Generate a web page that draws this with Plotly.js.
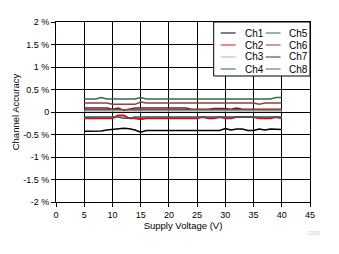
<!DOCTYPE html>
<html><head><meta charset="utf-8">
<script src="https://cdn.plot.ly/plotly-3.0.1.min.js"></script>
<style>html,body{margin:0;padding:0;background:#fff}#c{width:339px;height:254px}</style>
</head><body><div id="c"></div>
<script>
var voltage = [5,6,7,8,9,10,11,12,13,14,15,16,17,18,19,20,21,22,23,24,25,26,27,28,29,30,31,32,33,34,35,36,37,38,39,40];
var ch1 = [-0.43,-0.43,-0.43,-0.42,-0.40,-0.39,-0.37,-0.36,-0.37,-0.40,-0.45,-0.41,-0.41,-0.41,-0.41,-0.41,-0.41,-0.41,-0.41,-0.41,-0.41,-0.41,-0.41,-0.41,-0.41,-0.37,-0.40,-0.38,-0.38,-0.41,-0.41,-0.38,-0.40,-0.38,-0.39,-0.39];
var ch2 = [-0.14,-0.14,-0.14,-0.14,-0.14,-0.14,-0.08,-0.08,-0.14,-0.14,-0.16,-0.14,-0.14,-0.14,-0.14,-0.14,-0.14,-0.14,-0.14,-0.14,-0.14,-0.11,-0.14,-0.14,-0.11,-0.14,-0.14,-0.11,-0.11,-0.11,-0.11,-0.14,-0.14,-0.14,-0.11,-0.14];
var ch3 = [0.02,0.02,0.02,0.02,0.02,0.02,0.02,0.02,0.02,0.02,0.01,0.02,0.02,0.02,0.02,0.02,0.02,0.02,0.02,0.02,0.02,0.02,0.02,0.02,0.02,0.02,0.02,0.02,0.02,0.02,0.02,0.02,0.02,0.02,0.02,0.02];
var ch4 = [-0.11,-0.11,-0.11,-0.11,-0.11,-0.11,-0.11,-0.14,-0.14,-0.11,-0.11,-0.11,-0.11,-0.11,-0.11,-0.11,-0.11,-0.11,-0.11,-0.11,-0.11,-0.11,-0.11,-0.11,-0.11,-0.11,-0.11,-0.11,-0.11,-0.11,-0.11,-0.11,-0.11,-0.11,-0.11,-0.11];
var ch5 = [0.29,0.29,0.29,0.32,0.29,0.29,0.29,0.29,0.29,0.29,0.32,0.29,0.29,0.29,0.29,0.29,0.29,0.29,0.29,0.29,0.29,0.29,0.29,0.29,0.29,0.29,0.29,0.29,0.29,0.29,0.29,0.29,0.29,0.29,0.32,0.32];
var ch6 = [0.20,0.20,0.20,0.20,0.20,0.17,0.17,0.17,0.17,0.17,0.22,0.20,0.20,0.20,0.20,0.20,0.20,0.20,0.20,0.20,0.20,0.20,0.20,0.20,0.20,0.20,0.20,0.20,0.20,0.20,0.20,0.17,0.20,0.20,0.20,0.20];
var ch7 = [0.09,0.09,0.09,0.09,0.09,0.06,0.09,0.04,0.06,0.09,0.09,0.09,0.09,0.09,0.09,0.09,0.09,0.09,0.09,0.06,0.06,0.06,0.06,0.08,0.08,0.08,0.06,0.09,0.06,0.06,0.06,0.06,0.06,0.06,0.06,0.06];
var ch8 = [0.05,0.05,0.05,0.05,0.05,0.04,0.04,0.05,0.05,0.05,0.05,0.05,0.05,0.05,0.05,0.05,0.05,0.05,0.05,0.05,0.05,0.05,0.05,0.05,0.05,0.05,0.05,0.05,0.05,0.05,0.05,0.05,0.05,0.05,0.05,0.05];
var names = ["Ch1","Ch2","Ch3","Ch4","Ch5","Ch6","Ch7","Ch8"];
var colors = ["#000000","#ff0000","#b4b4b4","#24607e","#2f6e4f","#9b3b3b","#5a2060","#7a5a2c"];
var series = [ch1,ch2,ch3,ch4,ch5,ch6,ch7,ch8];
var yTickVals = [-2,-1.5,-1,-0.5,0,0.5,1,1.5,2];
var yTickText = ["-2 %","-1.5 %","-1 %","-0.5 %","0","0.5 %","1 %","1.5 %","2 %"];
var xTickVals = [0,5,10,15,20,25,30,35,40,45];

var traces = series.map(function(s,i){
  return {x: voltage, y: s, type:"scatter", mode:"lines", name: names[i],
    line:{color: colors[i], width: (i===1?2:1.5)}, showlegend:false, hoverinfo:"skip"};
});

var L=56, T=22, W=254.5, H=180;
function px(x){return (x-L)/W;}
function py(y){return (T+H-y)/H;}
var shapes = [{type:"rect", xref:"paper", yref:"paper", x0:px(214), x1:1, y0:py(76), y1:1,
  line:{color:"#000", width:1}, fillcolor:"#fff", layer:"above"}];
var annotations = [];
var rowsY = [33,45,57,69];
names.forEach(function(n,i){
  var col = i<4?0:1, row = i%4;
  var lx0 = col===0?221:266, tx = col===0?243:287;
  shapes.push({type:"line", xref:"paper", yref:"paper", x0:px(lx0), x1:px(lx0+15), y0:py(rowsY[row]), y1:py(rowsY[row]),
    line:{color:colors[i], width:1}, layer:"above"});
  annotations.push({xref:"paper", yref:"paper", x:px(tx), y:py(rowsY[row]), xanchor:"left", yanchor:"middle",
    text:n, showarrow:false, font:{family:"Liberation Sans, Arial", size:10, color:"#000"}});
});
annotations.push({xref:"paper", yref:"paper", x:px(323), y:py(233), xanchor:"right", yanchor:"middle",
  text:"C005", showarrow:false, font:{family:"Liberation Sans, Arial", size:5, color:"#c8c8c8"}});

var layout = {
  width:339, height:254, margin:{l:56, r:28.5, t:22, b:52},
  paper_bgcolor:"#fff", plot_bgcolor:"#fff", showlegend:false,
  font:{family:"Liberation Sans, Arial", size:9, color:"#000"},
  xaxis:{range:[0,45], tickvals:xTickVals, ticks:"outside", ticklen:4, tickcolor:"#000",
    showgrid:true, gridcolor:"#000", gridwidth:1, zeroline:false, showline:true, linecolor:"#000", linewidth:1, mirror:true,
    tickfont:{size:9}, title:{text:"Supply Voltage (V)", font:{size:9.5}, standoff:2}},
  yaxis:{range:[-2,2], tickvals:yTickVals, ticktext:yTickText, ticks:"outside", ticklen:4, tickcolor:"#000",
    showgrid:true, gridcolor:"#000", gridwidth:1, zeroline:false, showline:true, linecolor:"#000", linewidth:1, mirror:true,
    tickfont:{size:9}, title:{text:"Channel Accuracy", font:{size:9.5}, standoff:1}},
  shapes:shapes, annotations:annotations
};
Plotly.newPlot("c", traces, layout, {staticPlot:true, displayModeBar:false});
</script></body></html>
